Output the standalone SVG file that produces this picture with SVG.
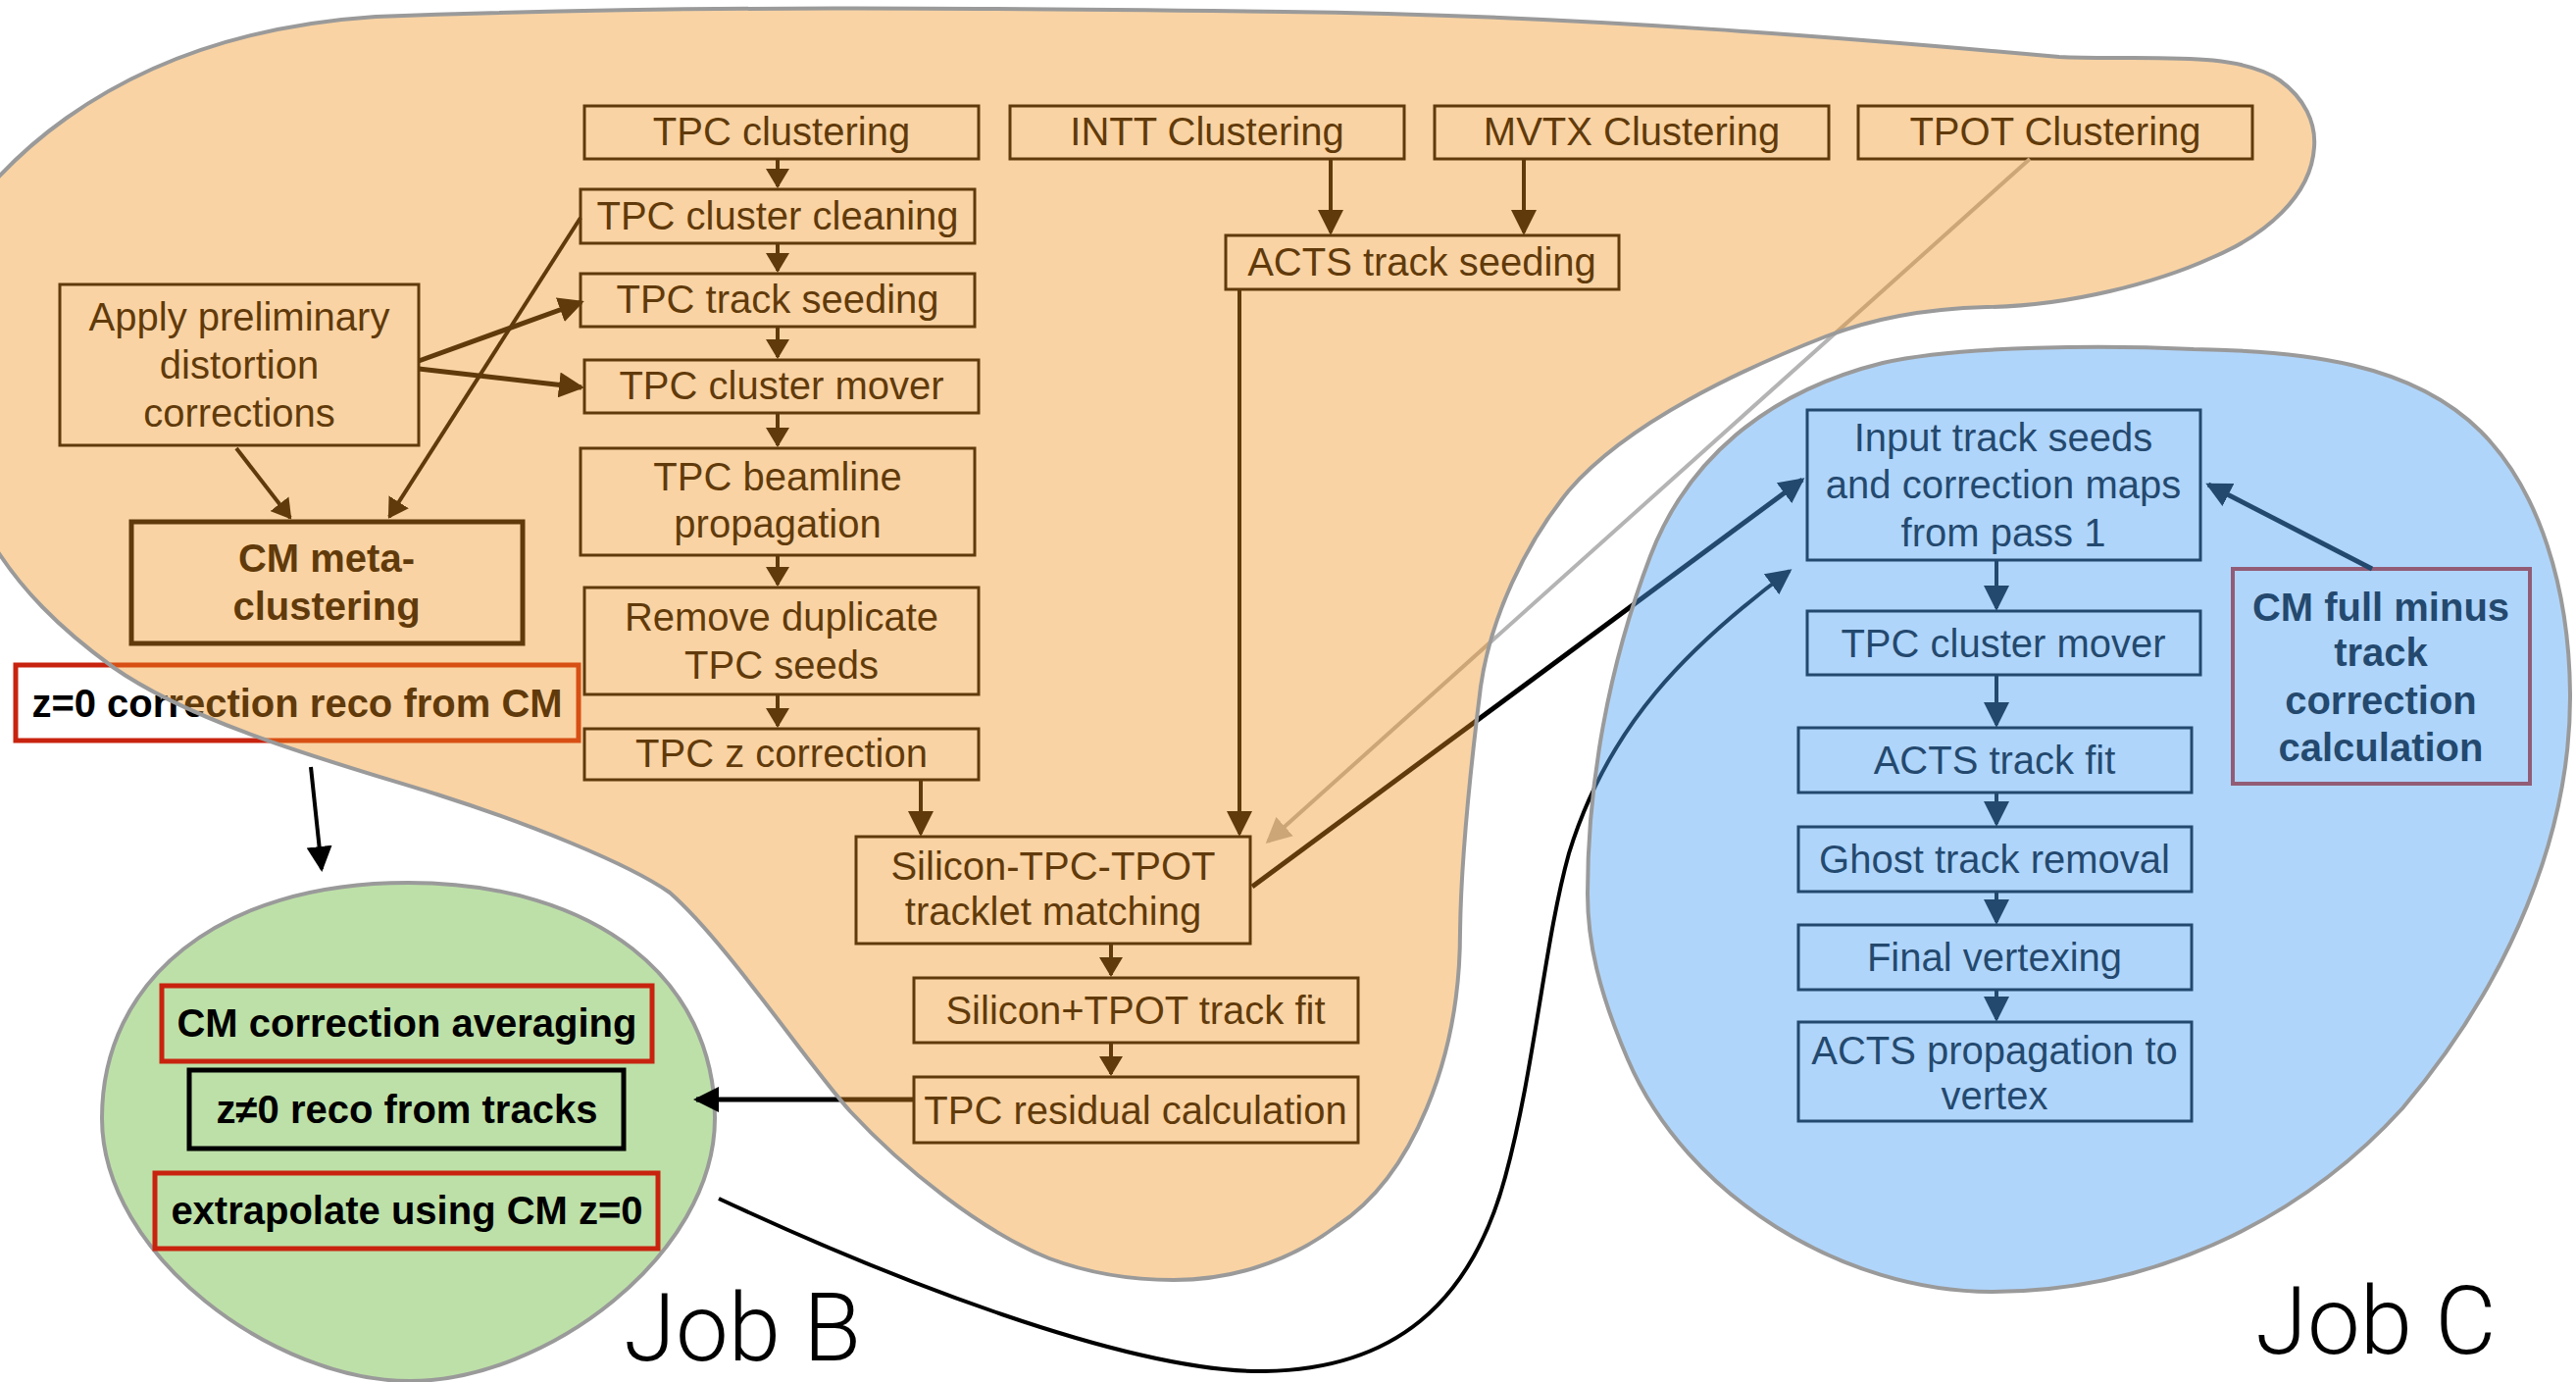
<svg xmlns="http://www.w3.org/2000/svg" width="2627" height="1409" viewBox="0 0 2627 1409">
<defs>
<style>
.bx{fill:none;stroke:#000;stroke-width:3}
.bxb{fill:none;stroke:#000;stroke-width:5}
.rb{fill:none;stroke:#c8230f;stroke-width:5}
.t{font-family:"Liberation Sans",Arial,Helvetica,sans-serif;font-size:40px;text-anchor:middle;fill:#000}
.b{font-weight:bold}
.ln{fill:none;stroke:#000;stroke-width:4}
.lk{fill:none;stroke:#000;stroke-width:5}
.lg{fill:none;stroke:#b4b4b4;stroke-width:4}
.job{font-family:Roboto,"Liberation Sans",Arial,sans-serif;font-weight:300;font-size:96px;fill:#000}
.edge{stroke:#9a9a9a;stroke-width:4}
</style>
<marker id="ah" viewBox="0 0 20 24" refX="18" refY="12" markerWidth="20" markerHeight="24" markerUnits="userSpaceOnUse" orient="auto"><path d="M0,0 L20,12 L0,24 z" fill="#000"/></marker>
<marker id="ahb" viewBox="0 0 26 26" refX="23" refY="13" markerWidth="26" markerHeight="26" markerUnits="userSpaceOnUse" orient="auto"><path d="M0,0 L26,13 L0,26 z" fill="#000"/></marker>
<marker id="ahg" viewBox="0 0 26 26" refX="23" refY="13" markerWidth="26" markerHeight="26" markerUnits="userSpaceOnUse" orient="auto"><path d="M0,0 L26,13 L0,26 z" fill="#b4b4b4"/></marker>
</defs>
<rect width="2627" height="1409" fill="#fff"/>

<!-- Job B region -->
<path id="jobB-region" d="M416,900 C610,900 729,1000 729,1140 C729,1280 556,1408 418,1408 C280,1408 104,1280 104,1140 C104,1000 222,900 416,900 Z" fill="#bde0a8" class="edge"/>

<g id="tpc_clustering"><rect class="bx" x="596" y="108" width="402" height="54"/><text class="t" x="797" y="148">TPC clustering</text></g>
<g id="tpc_cluster_cleaning"><rect class="bx" x="592" y="193" width="402" height="55"/><text class="t" x="793" y="234">TPC cluster cleaning</text></g>
<g id="tpc_track_seeding"><rect class="bx" x="592" y="279" width="402" height="54"/><text class="t" x="793" y="319">TPC track seeding</text></g>
<g id="tpc_cluster_mover"><rect class="bx" x="596" y="367" width="402" height="54"/><text class="t" x="797" y="407">TPC cluster mover</text></g>
<g id="tpc_beamline"><rect class="bx" x="592" y="457" width="402" height="109"/><text class="t" x="793" y="500">TPC beamline<tspan x="793" y="548">propagation</tspan></text></g>
<g id="remove_duplicate"><rect class="bx" x="596" y="599" width="402" height="109"/><text class="t" x="797" y="643">Remove duplicate<tspan x="797" y="692">TPC seeds</tspan></text></g>
<g id="tpc_z_correction"><rect class="bx" x="596" y="743" width="402" height="52"/><text class="t" x="797" y="782">TPC z correction</text></g>
<g id="apply_prelim"><rect class="bx" x="61" y="290" width="366" height="164"/><text class="t" x="244" y="337">Apply preliminary<tspan x="244" y="386">distortion</tspan><tspan x="244" y="435">corrections</tspan></text></g>
<g id="cm_meta"><rect class="bxb" x="134" y="532" width="399" height="124"/><text class="t b" x="333" y="583">CM meta-<tspan x="333" y="632">clustering</tspan></text></g>
<g id="z0_correction"><rect class="rb" x="16" y="678" width="574" height="77"/><text class="t b" x="303" y="731">z=0 correction reco from CM</text></g>
<g id="intt_clustering"><rect class="bx" x="1030" y="108" width="402" height="54"/><text class="t" x="1231" y="148">INTT Clustering</text></g>
<g id="mvtx_clustering"><rect class="bx" x="1463" y="108" width="402" height="54"/><text class="t" x="1664" y="148">MVTX Clustering</text></g>
<g id="tpot_clustering"><rect class="bx" x="1895" y="108" width="402" height="54"/><text class="t" x="2096" y="148">TPOT Clustering</text></g>
<g id="acts_seeding"><rect class="bx" x="1250" y="240" width="401" height="55"/><text class="t" x="1450" y="281">ACTS track seeding</text></g>
<g id="silicon_tpc_tpot"><rect class="bx" x="873" y="853" width="402" height="109"/><text class="t" x="1074" y="897">Silicon-TPC-TPOT<tspan x="1074" y="943">tracklet matching</tspan></text></g>
<g id="silicon_tpot_fit"><rect class="bx" x="932" y="997" width="453" height="66"/><text class="t" x="1158" y="1044">Silicon+TPOT track fit</text></g>
<g id="tpc_residual"><rect class="bx" x="932" y="1098" width="453" height="67"/><text class="t" x="1158" y="1146">TPC residual calculation</text></g>

<g id="cm_averaging"><rect class="rb" x="165" y="1005" width="500" height="77"/><text class="t b" x="415" y="1057">CM correction averaging</text></g>
<g id="z_ne0_reco"><rect class="bxb" x="193" y="1091" width="443" height="80"/><text class="t b" x="415" y="1145">z≠0 reco from tracks</text></g>
<g id="extrapolate"><rect class="rb" x="158" y="1196" width="513" height="77"/><text class="t b" x="415" y="1248">extrapolate using CM z=0</text></g>

<g id="input_seeds"><rect class="bx" x="1843" y="418" width="401" height="153"/><text class="t" x="2043" y="460">Input track seeds<tspan x="2043" y="508">and correction maps</tspan><tspan x="2043" y="557">from pass 1</tspan></text></g>
<g id="tpc_cluster_mover_c"><rect class="bx" x="1843" y="623" width="401" height="65"/><text class="t" x="2043" y="670">TPC cluster mover</text></g>
<g id="acts_track_fit"><rect class="bx" x="1834" y="742" width="401" height="66"/><text class="t" x="2034" y="789">ACTS track fit</text></g>
<g id="ghost_removal"><rect class="bx" x="1834" y="843" width="401" height="66"/><text class="t" x="2034" y="890">Ghost track removal</text></g>
<g id="final_vertexing"><rect class="bx" x="1834" y="943" width="401" height="66"/><text class="t" x="2034" y="990">Final vertexing</text></g>
<g id="acts_propagation"><rect class="bx" x="1834" y="1042" width="401" height="101"/><text class="t" x="2034" y="1085">ACTS propagation to<tspan x="2034" y="1131">vertex</tspan></text></g>
<g id="cm_full_minus"><rect class="rb" x="2277" y="580" width="303" height="219" style="stroke-width:4"/><text class="t b" x="2428" y="633">CM full minus<tspan x="2428" y="679">track</tspan><tspan x="2428" y="728">correction</tspan><tspan x="2428" y="776">calculation</tspan></text></g>

<g id="connectors">
<line class="ln" x1="793" y1="162" x2="793" y2="190" marker-end="url(#ah)"/>
<line class="ln" x1="793" y1="248" x2="793" y2="276" marker-end="url(#ah)"/>
<line class="ln" x1="793" y1="333" x2="793" y2="364" marker-end="url(#ah)"/>
<line class="ln" x1="793" y1="421" x2="793" y2="454" marker-end="url(#ah)"/>
<line class="ln" x1="793" y1="566" x2="793" y2="596" marker-end="url(#ah)"/>
<line class="ln" x1="793" y1="708" x2="793" y2="740" marker-end="url(#ah)"/>
<line class="lk" x1="427" y1="368" x2="593" y2="308" marker-end="url(#ahb)"/>
<line class="lk" x1="427" y1="376" x2="593" y2="395" marker-end="url(#ahb)"/>
<line class="ln" x1="592" y1="222" x2="397" y2="527" marker-end="url(#ah)"/>
<line class="ln" x1="241" y1="457" x2="296" y2="528" marker-end="url(#ah)"/>
<line class="ln" x1="1357" y1="162" x2="1357" y2="237" marker-end="url(#ahb)"/>
<line class="ln" x1="1554" y1="162" x2="1554" y2="237" marker-end="url(#ahb)"/>
<line class="ln" x1="1264" y1="295" x2="1264" y2="850" marker-end="url(#ahb)"/>
<line class="ln" x1="939" y1="795" x2="939" y2="850" marker-end="url(#ahb)"/>
<line class="ln" x1="1133" y1="962" x2="1133" y2="994" marker-end="url(#ah)"/>
<line class="ln" x1="1133" y1="1063" x2="1133" y2="1095" marker-end="url(#ah)"/>
<line class="lg" x1="2070" y1="162" x2="1293" y2="858" marker-end="url(#ahg)"/>
<line class="lk" x1="1277" y1="904" x2="1838" y2="489" marker-end="url(#ahb)"/>
<line class="lk" x1="932" y1="1121" x2="710" y2="1121" marker-end="url(#ahb)"/>
<line class="ln" x1="317" y1="782" x2="328" y2="886" marker-end="url(#ahb)"/>
<path class="ln" d="M733,1222 C900,1300 1150,1400 1290,1398 C1420,1396 1500,1330 1535,1200 C1565,1090 1575,960 1600,870 C1640,740 1720,660 1825,582" marker-end="url(#ahb)"/>
<line class="lk" x1="2419" y1="580" x2="2252" y2="494" marker-end="url(#ahb)"/>
<line class="ln" x1="2036" y1="571" x2="2036" y2="620" marker-end="url(#ahb)"/>
<line class="ln" x1="2036" y1="688" x2="2036" y2="739" marker-end="url(#ahb)"/>
<line class="ln" x1="2036" y1="808" x2="2036" y2="840" marker-end="url(#ahb)"/>
<line class="ln" x1="2036" y1="909" x2="2036" y2="940" marker-end="url(#ahb)"/>
<line class="ln" x1="2036" y1="1009" x2="2036" y2="1039" marker-end="url(#ahb)"/>
</g>

<text class="job" x="636" y="1387">Job B</text>
<text class="job" x="2300" y="1380">Job C</text>

<!-- Job A region (translucent overlay) -->
<path id="jobA-region" d="M-80,300 C-30,180 110,35 383,17 C700,5 1000,8 1310,12 C1600,15 1900,40 2100,58 C2180,62 2280,50 2325,82 C2350,100 2362,125 2360,150 C2357,200 2310,240 2255,263 C2200,288 2110,312 2026,313 C1960,315 1910,325 1862,343 C1780,375 1660,430 1600,500 C1555,555 1520,630 1510,700 C1500,780 1490,870 1489,950 C1489,1080 1440,1200 1363,1250 C1310,1290 1250,1305 1197,1305 C1150,1305 1110,1298 1070,1283 C1000,1255 920,1190 867,1133 C820,1080 740,960 683,910 C640,880 540,840 446,810 C350,780 200,740 115,680 C60,640 20,600 -10,550 C-40,510 -80,470 -100,420 L-100,300 Z" fill="rgb(240,145,27)" fill-opacity="0.4" class="edge"/>
<!-- Job C region (translucent overlay) -->
<path id="jobC-region" d="M1619,911 C1619,800 1640,680 1683,567 C1720,470 1800,400 1920,370 C2000,352 2150,352 2237,356 C2350,358 2460,370 2530,440 C2590,500 2620,600 2621,707 C2622,850 2560,1000 2450,1130 C2350,1240 2200,1317 2031,1317 C1880,1317 1720,1220 1660,1080 C1630,1010 1619,960 1619,911 Z" fill="rgb(79,162,244)" fill-opacity="0.45" class="edge"/>
</svg>
